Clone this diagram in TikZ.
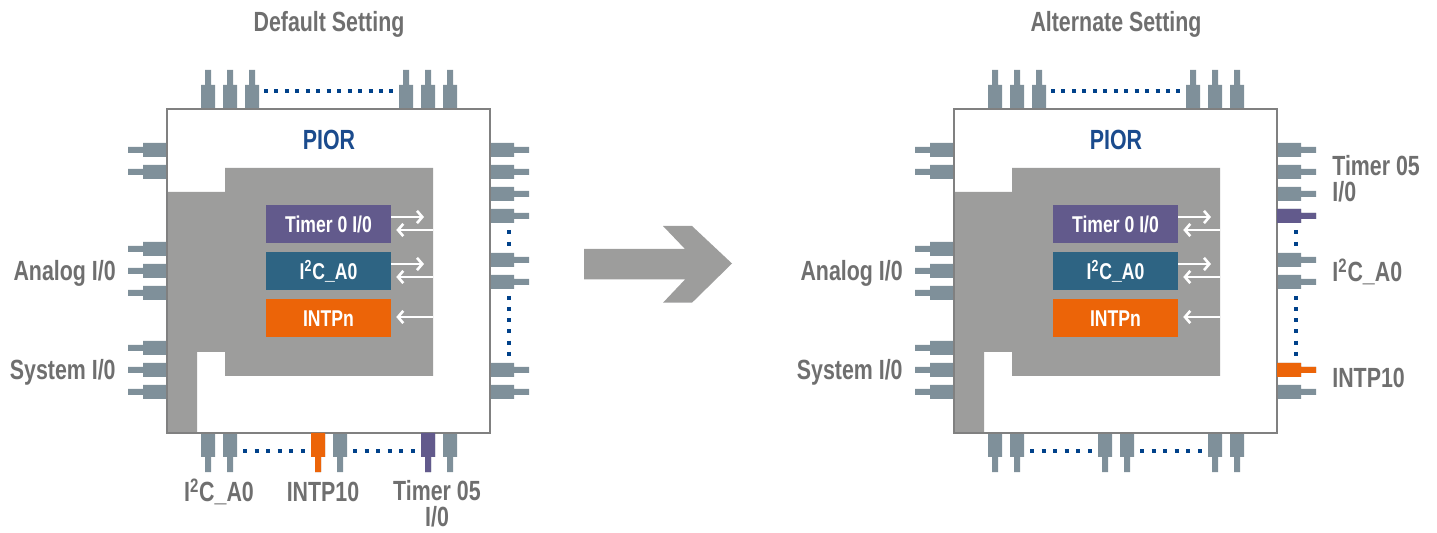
\documentclass[tikz,border=0pt]{standalone}
\usepackage{fontspec}
\newfontfamily\labelfont{Liberation Sans}[FakeStretch=0.77]
\usetikzlibrary{arrows.meta}
\definecolor{pingray}{HTML}{7F909A}
\definecolor{coregray}{HTML}{9D9D9C}
\definecolor{txtgray}{HTML}{6F6F6F}
\definecolor{piorblue}{HTML}{1B4B8D}
\definecolor{dotblue}{HTML}{00418A}
\definecolor{timerpurple}{HTML}{625A8C}
\definecolor{itwocteal}{HTML}{2E6483}
\definecolor{intorange}{HTML}{EC6408}
\tikzset
{
	title/.style     = {text=txtgray, inner sep=0pt, text height=11.3pt, text depth=0pt, font=\labelfont\bfseries\fontsize{15.8}{14.7}\selectfont},
	pinlabel/.style  = {text=txtgray, inner sep=0pt, text height=11.3pt, text depth=0pt, font=\labelfont\bfseries\fontsize{15.8}{14.7}\selectfont},
	piorlabel/.style = {text=piorblue, inner sep=0pt, text height=11.3pt, text depth=0pt, font=\labelfont\bfseries\fontsize{15.8}{14.7}\selectfont},
	block/.style     = {text=white, inner sep=0pt, minimum width=2.5cm, minimum height=0.76cm, text height=9.2pt, text depth=0pt, font=\labelfont\bfseries\fontsize{13}{14}\selectfont},
	chipbox/.style   = {draw=gray, line width=1pt, fill=white},
	core/.style      = {fill=coregray},
	sig/.style       = {white, line width=1.5pt, -{Straight Barb[length=3pt,width=7pt]}},
	dotrow/.style    = {dotblue, line width=2.27pt, dash pattern=on 2.27pt off #1},
	pics/tpin/.style = {code={\path[pic actions] (-7,0) rectangle (7,-24) (-3,-24) rectangle (3,-39);}},
	pics/bpin/.style = {code={\path[pic actions] (-7,0) rectangle (7,24) (-3,24) rectangle (3,39);}},
	pics/lpin/.style = {code={\path[pic actions] (0,-7) rectangle (-24,7) (-24,-3) rectangle (-39,3);}},
	pics/rpin/.style = {code={\path[pic actions] (0,-7) rectangle (24,7) (24,-3) rectangle (39,3);}}
}

\begin{document}
\begin{tikzpicture}[x=0.02cm, y=-0.02cm]
\useasboundingbox (0,0) rectangle (1437,533);

% both chips
\foreach \off/\tag in {0/L,787/R}
{
\begin{scope}[shift={(\off,0)}]
	\foreach \x in {208,230,252,406,428,450} \pic[fill=pingray] at (\x,109) {tpin};
	\foreach \x in {208,230,318,340,428,450} \pic[fill=pingray] at (\x,433) {bpin};
	\foreach \y in {150,172,249,271,293,348,370,392} \pic[fill=pingray] at (167,\y) {lpin};
	\foreach \y in {150,172,194,216,260,282,370,392} \pic[fill=pingray] at (490,\y) {rpin};
	\draw[chipbox] (167,109) rectangle (490,433);
	\fill[core] (167,192) -- (225,192) -- (225,168) -- (433,168) -- (433,376) -- (225,376)
		-- (225,352) -- (197,352) -- (197,433) -- (167,433) -- cycle;
	\draw[chipbox, fill=none] (167,109) rectangle (490,433);
	% dotted pin rows
	\draw[dotrow=3.68pt] (264,91) -- (394,91);
	\draw[dotrow=4.31pt] (243,451) -- (305,451);
	\draw[dotrow=4.31pt] (353,451) -- (415,451);
	\draw[dotrow=4.54pt] (509,230) -- (509,246);
	\draw[dotrow=4.08pt] (509,296) -- (509,356);
	% peripherals
	\node[piorlabel] (pior\tag) at (329,140) {PIOR};
	\node[block, fill=timerpurple] (timer\tag) at (328.5,224) {Timer 0 I/0};
	\node[block, fill=itwocteal] (itwoc\tag) at (328.5,271) {I\textsuperscript{2}C\_A0};
	\node[block, fill=intorange] (intp\tag) at (328.5,318) {INTPn};
	\coordinate (timerout\tag) at (424,217);
	\coordinate (timerin\tag) at (433,230);
	\coordinate (itwocout\tag) at (424,264);
	\coordinate (itwocin\tag) at (433,277);
	\coordinate (intpin\tag) at (433,317);
	\draw[sig] (timer\tag.east |- timerout\tag) -- (timerout\tag);
	\draw[sig, shorten >=2.8pt] (timerin\tag) -- (timer\tag.east |- timerin\tag);
	\draw[sig] (itwoc\tag.east |- itwocout\tag) -- (itwocout\tag);
	\draw[sig, shorten >=2.8pt] (itwocin\tag) -- (itwoc\tag.east |- itwocin\tag);
	\draw[sig, shorten >=2.8pt] (intpin\tag) -- (intp\tag.east |- intpin\tag);
	% left side labels
	\node[pinlabel, anchor=east] (analog\tag) at (116,271) {Analog I/0};
	\node[pinlabel, anchor=east] (system\tag) at (116,370) {System I/0};
\end{scope}
}

% titles
\node[title] (deftitle) at (329,21.5) {Default Setting};
\node[title] (alttitle) at (1116,21.5) {Alternate Setting};

% default setting: signals on the bottom pins
\pic[fill=intorange] at (318,433) {bpin};
\pic[fill=timerpurple] at (428,433) {bpin};
\node[pinlabel] (itwocpinL) at (219,492) {I\textsuperscript{2}C\_A0};
\node[pinlabel] (intppinL) at (323,492) {INTP10};
\node[pinlabel] (timerpinL) at (437,491) {Timer 05};
\node[pinlabel] (timeriopinL) at (437,517) {I/0};

% alternate setting: signals on the right pins
\pic[fill=timerpurple] at (1277,216) {rpin};
\pic[fill=intorange] at (1277,370) {rpin};
\node[pinlabel, anchor=west] (timerpinR) at (1332,166) {Timer 05};
\node[pinlabel, anchor=west] (timeriopinR) at (1332,192) {I/0};
\node[pinlabel, anchor=west] (itwocpinR) at (1332,272) {I\textsuperscript{2}C\_A0};
\node[pinlabel, anchor=west] (intppinR) at (1332,378) {INTP10};

% big arrow
\fill[core] (584,249) -- (685,249) -- (663,226) -- (692,226) -- (732,263.5) -- (692,302.7)
	-- (663,302.7) -- (685,279.5) -- (584,279.5) -- cycle;
\end{tikzpicture}
\end{document}
